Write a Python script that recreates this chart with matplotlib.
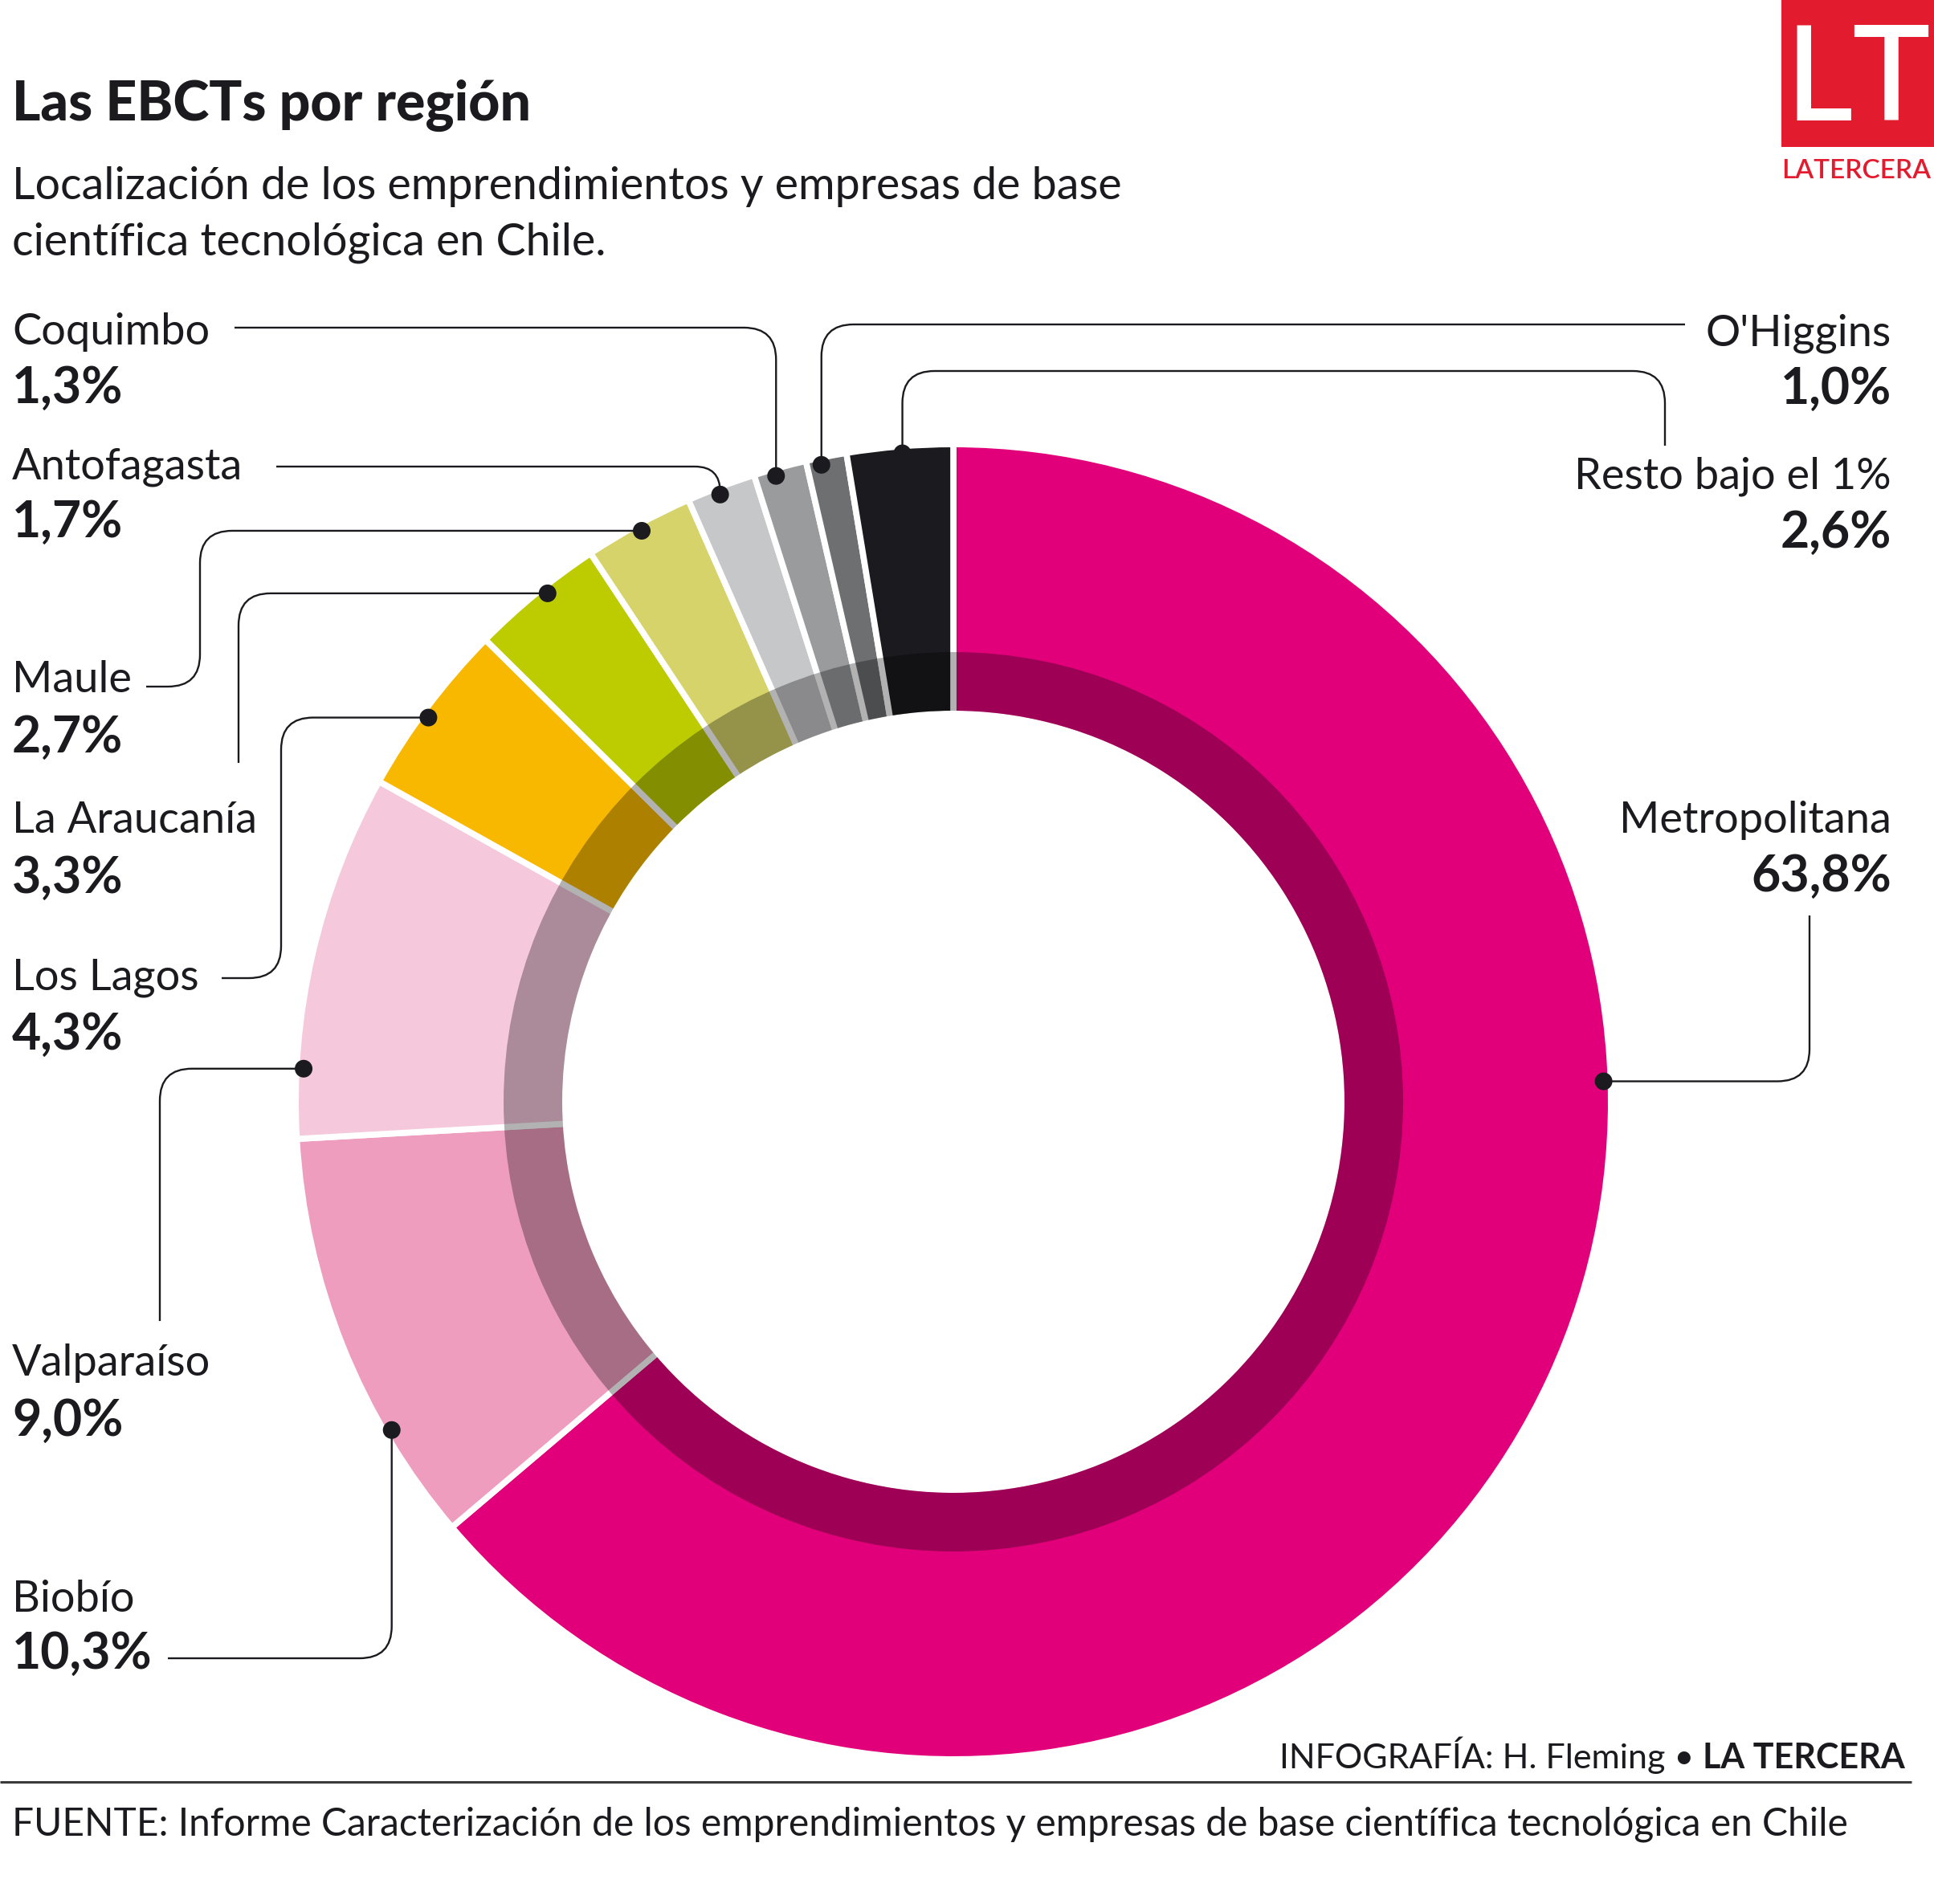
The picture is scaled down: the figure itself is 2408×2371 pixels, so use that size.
import matplotlib
matplotlib.use("Agg")
import matplotlib.pyplot as plt
from matplotlib.patches import Wedge, Circle, Rectangle, PathPatch
from matplotlib.path import Path
import numpy as np

plt.rcParams["font.family"] = ["Lato", "DejaVu Sans"]

# ---------------------------------------------------------------------------
# Data (share of EBCTs per region, clockwise from 12 o'clock)
# ---------------------------------------------------------------------------
regions = ["Metropolitana", "Biobío", "Valparaíso", "Los Lagos", "La Araucanía",
           "Maule", "Antofagasta", "Coquimbo", "O'Higgins", "Resto bajo el 1%"]
shares = [63.8, 10.3, 9.0, 4.3, 3.3, 2.7, 1.7, 1.3, 1.0, 2.6]
colors = ["#E2007A", "#EE9DBE", "#F5C8DC", "#F8B800", "#BDCC00",
          "#D6D36A", "#C6C7C9", "#9A9B9D", "#6E6F71", "#1B1A1F"]

TITLE = "Las EBCTs por región"
SUBTITLE = ["Localización de los emprendimientos y empresas de base",
            "científica tecnológica en Chile."]
SOURCE = ("FUENTE: Informe Caracterización de los emprendimientos y empresas "
          "de base científica tecnológica en Chile")

# ---------------------------------------------------------------------------
# Layout (pixel space, y grows downwards)
# ---------------------------------------------------------------------------
W, H = 2408, 2371
CX, CY = 1187, 1372
R_OUT, R_IN, R_BAND = 815, 487, 560
SEP_LW = 5.5            # white separator width (pt)
INK = "#1B1A1F"
RED = "#E31B2E"

# side, x, name baseline, pct baseline, anchor position inside slice, leader legs
label_layout = {
    "Metropolitana":    ("right", 2355, 1037, 1110, 0.384, [("h", 2253), ("v", 1140)]),
    "Biobío":           ("left", 15, 2007, 2078, 0.27, [("v", 2065), ("h", 209)]),
    "Valparaíso":       ("left", 15, 1713, 1788, 0.19, [("h", 199), ("v", 1645)]),
    "Los Lagos":        ("left", 15, 1232, 1307, 0.455, [("h", 350), ("v", 1218), ("h", 276)]),
    "La Araucanía":     ("left", 15, 1037, 1112, 0.57, [("h", 297), ("v", 950)]),
    "Maule":            ("left", 15, 862, 937, 0.5, [("h", 249), ("v", 855), ("h", 182)]),
    "Antofagasta":      ("left", 15, 597, 669, 0.45, [("v", 581), ("h", 344)]),
    "Coquimbo":         ("left", 15, 429, 502, 0.39, [("v", 408), ("h", 292)]),
    "O'Higgins":        ("right", 2355, 430, 503, 0.35, [("v", 404), ("h", 2098)]),
    "Resto bajo el 1%": ("right", 2355, 608, 682, 0.52, [("v", 462), ("h", 2073), ("v", 555)]),
}


def rounded_path(points, radius=40):
    """Axis-aligned polyline with rounded elbows."""
    pts = [np.array(p, dtype=float) for p in points]
    verts, codes = [pts[0]], [Path.MOVETO]
    n = len(pts) - 1
    for i in range(1, n):
        prev, cur, nxt = pts[i - 1], pts[i], pts[i + 1]
        l_in = np.linalg.norm(cur - prev)
        l_out = np.linalg.norm(nxt - cur)
        r = min(radius,
                l_in * (0.9 if i == 1 else 0.5),
                l_out * (0.9 if i + 1 == n else 0.5))
        d_in = (cur - prev) / l_in
        d_out = (nxt - cur) / l_out
        verts += [cur - d_in * r, cur, cur + d_out * r]
        codes += [Path.LINETO, Path.CURVE3, Path.CURVE3]
    verts.append(pts[-1])
    codes.append(Path.LINETO)
    return Path(verts, codes)


fig = plt.figure(figsize=(W / 100, H / 100), dpi=100)
ax = fig.add_axes([0, 0, 1, 1])

# donut (y axis is inverted below, so counterclock=True reads clockwise)
half = SEP_LW * 100 / 72 / 2
wedges, _ = ax.pie(shares, colors=colors, startangle=-90, counterclock=True,
                   center=(CX, CY), radius=R_OUT + half,
                   wedgeprops=dict(width=R_OUT - R_IN + 2 * half,
                                   edgecolor="white", linewidth=SEP_LW))

# darker inner band
ax.add_patch(Wedge((CX, CY), R_BAND, 0, 360, width=R_BAND - R_IN,
                   facecolor="black", alpha=0.3, linewidth=0, zorder=3))

ax.set_xlim(0, W)
ax.set_ylim(H, 0)
ax.set_aspect("equal")
ax.axis("off")

# labels, dots and leader lines
cum = np.concatenate([[0], np.cumsum(shares)]) / sum(shares)
for i, (name, val) in enumerate(zip(regions, shares)):
    side, tx, y_name, y_pct, t, legs = label_layout[name]
    ang = np.deg2rad(-90 + 360 * (cum[i] + t * (cum[i + 1] - cum[i])))
    dx = CX + (R_OUT - 5) * np.cos(ang)
    dy = CY + (R_OUT - 5) * np.sin(ang)

    pts = [(dx, dy)]
    x, y = dx, dy
    for axis, v in legs:
        if axis == "h":
            x = v
        else:
            y = v
        pts.append((x, y))
    ax.add_patch(PathPatch(rounded_path(pts), facecolor="none", edgecolor=INK,
                           linewidth=1.7, capstyle="butt", zorder=4))
    ax.add_patch(Circle((dx, dy), 11, facecolor=INK, edgecolor="none", zorder=5))

    ha = "left" if side == "left" else "right"
    pct = f"{val:.1f}".replace(".", ",") + "%"
    ax.text(tx, y_name, name, ha=ha, va="baseline", fontsize=39, color=INK)
    ax.text(tx, y_pct, pct, ha=ha, va="baseline", fontsize=45,
            fontweight="bold", color=INK)

# title and subtitle
ax.text(15, 150, TITLE, ha="left", va="baseline", fontsize=49,
        fontweight="black", color=INK)
for k, line in enumerate(SUBTITLE):
    ax.text(15, 248 + 70 * k, line, ha="left", va="baseline", fontsize=40,
            color=INK)

# logo
ax.add_patch(Rectangle((2218, 0), W - 2218, 183, facecolor=RED,
                       edgecolor="none", zorder=2))
ax.text(2313, 150, "LT", ha="center", va="baseline", fontsize=118,
        fontweight="medium", color="white", zorder=3)
ax.text(2218, 222, "LATERCERA", ha="left", va="baseline", fontsize=24,
        fontweight="semibold", color=RED)

# credits, rule and source
bold = ax.text(2372, 2202, "LA TERCERA", ha="right", va="baseline",
               fontsize=31, fontweight="bold", color=INK)
ax.annotate("INFOGRAFÍA: H. Fleming • ", xy=(0, 0), xycoords=bold,
            ha="right", va="bottom", fontsize=31, color=INK)
ax.plot([0, 2380], [2219, 2219], color="#3A3A3A", linewidth=2.2,
        solid_capstyle="butt")
ax.text(15, 2286, SOURCE, ha="left", va="baseline", fontsize=34.5, color=INK)

fig.savefig("out.png", dpi=100, facecolor="white")
